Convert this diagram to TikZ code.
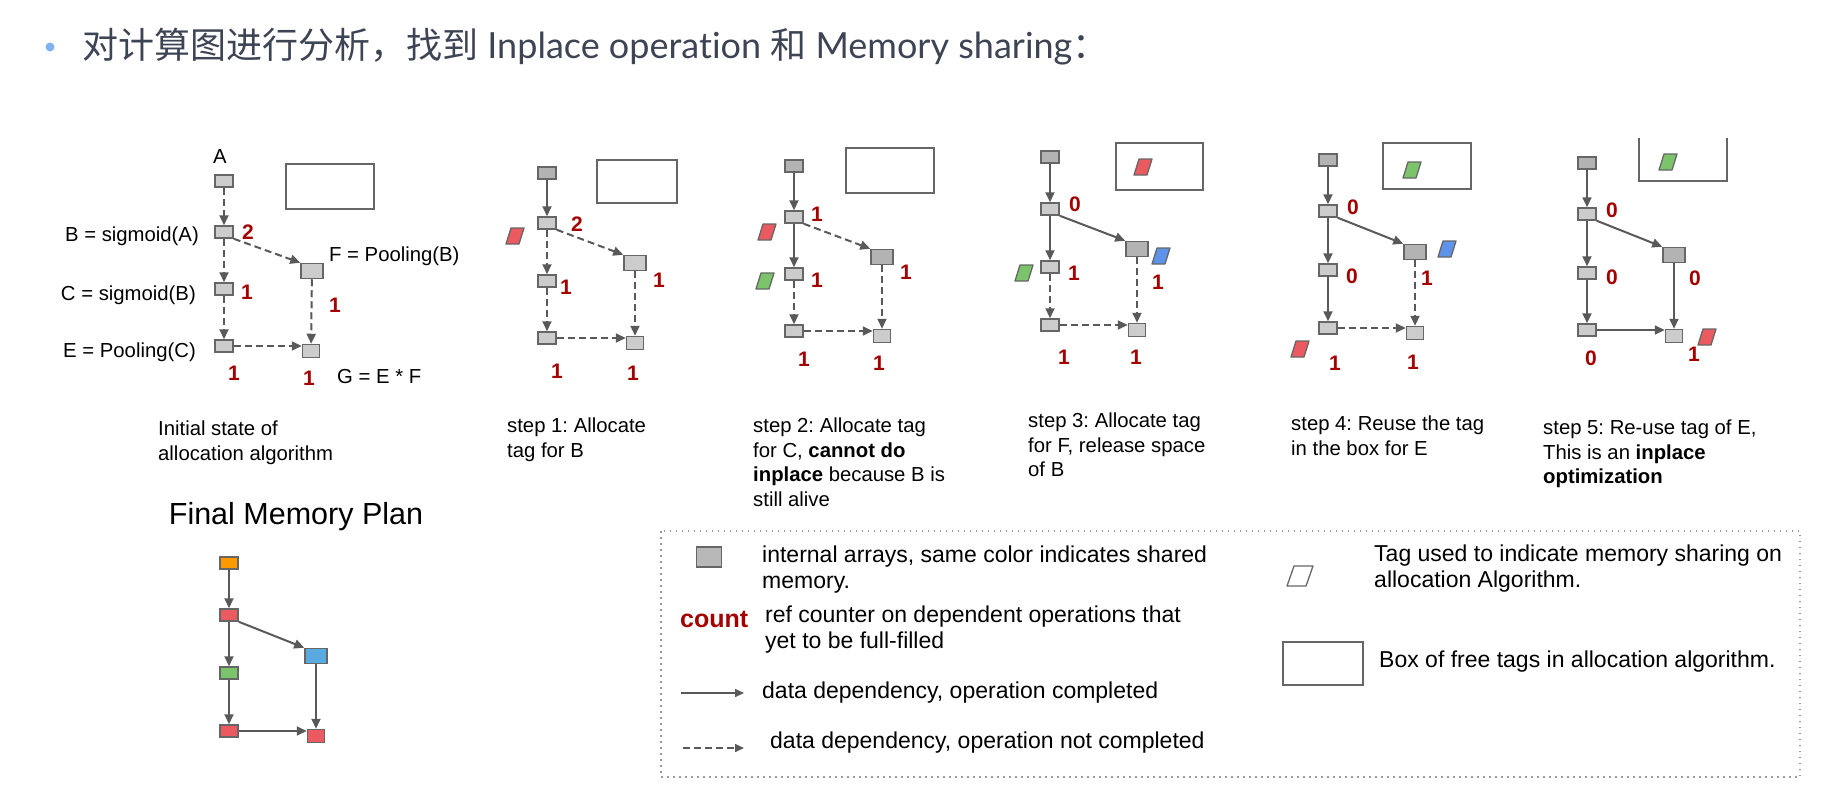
\documentclass[tikz,border=0pt]{standalone}
\usepackage{fontspec}
\setmainfont{Liberation Sans}
\newfontfamily\hdfont[Ligatures=NoCommon]{Lato}
\newfontfamily\cjk{Noto Sans CJK SC}
\usetikzlibrary{arrows.meta}
\frenchspacing
\definecolor{edgec}{HTML}{595959}
\definecolor{nodeline}{HTML}{666666}
\definecolor{nodelight}{HTML}{CCCCCC}
\definecolor{nodedark}{HTML}{B3B3B3}
\definecolor{cntred}{HTML}{A40000}
\definecolor{tagred}{HTML}{EC5A61}
\definecolor{taggreen}{HTML}{7BC46C}
\definecolor{tagblue}{HTML}{5E93EB}
\definecolor{fmblue}{HTML}{5AAAE2}
\definecolor{fmorange}{HTML}{FF9900}
\definecolor{hdcol}{HTML}{3D4454}
\definecolor{bulletcol}{HTML}{7FB2F0}
\definecolor{dotcol}{HTML}{9A9A9A}
\newcommand\lblfont{\fontsize{20.3}{24.5}\selectfont}
\newcommand\legfont{\fontsize{23}{26}\selectfont}
\newcommand\cntfont{\fontsize{21}{24}\selectfont\bfseries}
\tikzset{
  arr/.style={draw=edgec, line width=2pt, -{Triangle[length=10pt,width=9pt]}},
  dsh/.style={arr, dash pattern=on 7pt off 4pt},
  nd/.style={draw=nodeline, line width=1.5pt, fill=nodelight, minimum width=18pt, minimum height=12pt, inner sep=0pt},
  ndk/.style={nd, fill=nodedark},
  ndf/.style={nd, minimum width=22pt, minimum height=15pt},
  ndg/.style={nd, minimum width=17pt, minimum height=13pt},
  cnt/.style={text=cntred, font=\cntfont, inner sep=0pt},
  lbl/.style={font=\lblfont, inner sep=0pt},
  captxt/.style={font=\lblfont, inner sep=0pt, align=left, anchor=north west},
  legtxt/.style={font=\legfont, inner sep=0pt, align=left, anchor=west},
  freebox/.style={draw=nodeline, line width=1.6pt},
  pics/tag/.style={code={\draw[draw=nodeline, line width=1.3pt, fill=#1, line join=round] (-9,8) -- (4,8) -- (9,-8) -- (-4,-8) -- cycle;}},
  pics/bigtag/.style={code={\draw[draw=nodeline, line width=1.3pt, fill=#1, line join=round] (-13,10) -- (6,10) -- (13,-10) -- (-6,-10) -- cycle;}}
}
\begin{document}
\begin{tikzpicture}[x=1pt, y=-1pt]
\useasboundingbox (0,0) rectangle (1845,803);

% header
\fill[bulletcol] (50,47) circle (4.5);
\node[anchor=west, inner sep=0pt, text=hdcol, font=\hdfont\fontsize{36}{40}\selectfont] (hd) at (82,47)
  {{\cjk 对计算图进行分析，找到} Inplace operation {\cjk 和} Memory sharing{\cjk ：}};

% ===== initial state =====
\node[nd] (s0A) at (224,181) {};
\node[nd] (s0B) at (224,232) {};
\node[nd] (s0C) at (224,289) {};
\node[nd] (s0E) at (224,346) {};
\node[ndf] (s0F) at (312,271) {};
\node[ndg] (s0G) at (311,351) {};
\node[lbl] (s0lA) at (220,157) {A};
\node[lbl, anchor=east] (s0lB) at (199,236) {B = sigmoid(A)};
\node[lbl, anchor=east] (s0lC) at (196,295) {C = sigmoid(B)};
\node[lbl, anchor=east] (s0lE) at (196,352) {E = Pooling(C)};
\node[lbl, anchor=west] (s0lF) at (329,256) {F = Pooling(B)};
\node[lbl, anchor=west] (s0lG) at (337,377) {G = E * F};
\node[cnt] (s0cB) at (248,232) {2};
\node[cnt] (s0cC) at (247,292) {1};
\node[cnt] (s0cF) at (335,305) {1};
\node[cnt] (s0cE) at (234,373) {1};
\node[cnt] (s0cG) at (309,378) {1};
\draw[freebox] (286,164) rectangle (374,209);
\node[captxt] (s0t) at (158,421) {Initial state of\\allocation algorithm};
\draw[dsh] (s0A) -- (s0B);
\draw[dsh] (s0B) -- (s0C);
\draw[dsh] (s0C) -- (s0E);
\draw[dsh] (s0B.south east) -- (s0F.north west);
\draw[dsh] (s0F) -- (s0G);
\draw[dsh] (s0E.east) -- (s0G.west |- s0E.east);

% ===== step 1 =====
\node[ndk] (s1A) at (547,173) {};
\node[nd] (s1B) at (547,223) {};
\node[nd] (s1C) at (547,281) {};
\node[nd] (s1E) at (547,338) {};
\node[ndf] (s1F) at (635,263) {};
\node[ndg] (s1G) at (635,343) {};
\node[cnt] (s1cB) at (577,224) {2};
\node[cnt] (s1cC) at (566,287) {1};
\node[cnt] (s1cF) at (659,280) {1};
\node[cnt] (s1cE) at (557,371) {1};
\node[cnt] (s1cG) at (633,373) {1};
\pic (s1tr) at (515,236) {tag=tagred};
\draw[freebox] (597,160) rectangle (677,203);
\node[captxt] (s1t) at (507,418) {step 1: Allocate\\tag for B};
\draw[arr] (s1A) -- (s1B);
\draw[dsh] (s1B) -- (s1C);
\draw[dsh] (s1C) -- (s1E);
\draw[dsh] (s1B.south east) -- (s1F.north west);
\draw[dsh] (s1F) -- (s1G);
\draw[dsh] (s1E.east) -- (s1G.west |- s1E.east);

% ===== step 2 =====
\node[ndk] (s2A) at (794,166) {};
\node[nd] (s2B) at (794,217) {};
\node[nd] (s2C) at (794,274) {};
\node[nd] (s2E) at (794,331) {};
\node[ndf, fill=nodedark] (s2F) at (882,257) {};
\node[ndg] (s2G) at (882,336) {};
\node[cnt] (s2cB) at (817,214) {1};
\node[cnt] (s2cC) at (817,280) {1};
\node[cnt] (s2cF) at (906,272) {1};
\node[cnt] (s2cE) at (804,359) {1};
\node[cnt] (s2cG) at (879,363) {1};
\pic (s2tr) at (767,232) {tag=tagred};
\pic (s2tg) at (765,281) {tag=taggreen};
\draw[freebox] (846,148) rectangle (934,193);
\node[captxt] (s2t) at (753,418) {step 2: Allocate tag\\for C, \textbf{cannot do}\\\textbf{inplace} because B is\\still alive};
\draw[arr] (s2A) -- (s2B);
\draw[arr] (s2B) -- (s2C);
\draw[dsh] (s2C) -- (s2E);
\draw[dsh] (s2B.south east) -- (s2F.north west);
\draw[dsh] (s2F) -- (s2G);
\draw[dsh] (s2E.east) -- (s2G.west |- s2E.east);

% ===== step 3 =====
\node[ndk] (s3A) at (1050,157) {};
\node[nd] (s3B) at (1050,209) {};
\node[nd] (s3C) at (1050,267) {};
\node[nd] (s3E) at (1050,325) {};
\node[ndf, fill=nodedark] (s3F) at (1137,249) {};
\node[ndg] (s3G) at (1137,330) {};
\node[cnt] (s3cB) at (1075,204) {0};
\node[cnt] (s3cC) at (1074,273) {1};
\node[cnt] (s3cF) at (1158,282) {1};
\node[cnt] (s3cE) at (1064,357) {1};
\node[cnt] (s3cG) at (1136,357) {1};
\pic (s3tb) at (1161,256) {tag=tagblue};
\pic (s3tg) at (1024,273) {tag=taggreen};
\draw[freebox] (1116,143) rectangle (1203,190);
\pic (s3tr) at (1143,167) {tag=tagred};
\node[captxt] (s3t) at (1028,413) {step 3: Allocate tag\\for F, release space\\of B};
\draw[arr] (s3A) -- (s3B);
\draw[arr] (s3B) -- (s3C);
\draw[dsh] (s3C) -- (s3E);
\draw[arr] (s3B.south east) -- (s3F.north west);
\draw[dsh] (s3F) -- (s3G);
\draw[dsh] (s3E.east) -- (s3G.west |- s3E.east);

% ===== step 4 =====
\node[ndk] (s4A) at (1328,160) {};
\node[nd] (s4B) at (1328,211) {};
\node[nd] (s4C) at (1328,270) {};
\node[nd] (s4E) at (1328,328) {};
\node[ndf, fill=nodedark] (s4F) at (1415,252) {};
\node[ndg] (s4G) at (1415,333) {};
\node[cnt] (s4cB) at (1353,207) {0};
\node[cnt] (s4cC) at (1352,276) {0};
\node[cnt] (s4cF) at (1427,278) {1};
\node[cnt] (s4cE) at (1335,363) {1};
\node[cnt] (s4cG) at (1413,362) {1};
\pic (s4tb) at (1447,249) {tag=tagblue};
\pic (s4tr) at (1300,349) {tag=tagred};
\draw[freebox] (1383,143) rectangle (1471,189);
\pic (s4tg) at (1412,170) {tag=taggreen};
\node[captxt] (s4t) at (1291,416) {step 4: Reuse the tag\\in the box for E};
\draw[arr] (s4A) -- (s4B);
\draw[arr] (s4B) -- (s4C);
\draw[arr] (s4C) -- (s4E);
\draw[arr] (s4B.south east) -- (s4F.north west);
\draw[dsh] (s4F) -- (s4G);
\draw[dsh] (s4E.east) -- (s4G.west |- s4E.east);

% ===== step 5 =====
\node[ndk] (s5A) at (1587,163) {};
\node[nd] (s5B) at (1587,214) {};
\node[nd] (s5C) at (1587,273) {};
\node[nd] (s5E) at (1587,330) {};
\node[ndf, fill=nodedark] (s5F) at (1674,255) {};
\node[ndg] (s5G) at (1674,336) {};
\node[cnt] (s5cB) at (1612,210) {0};
\node[cnt] (s5cC) at (1612,277) {0};
\node[cnt] (s5cF) at (1695,278) {0};
\node[cnt] (s5cE) at (1591,358) {0};
\node[cnt] (s5cG) at (1694,354) {1};
\pic (s5tr) at (1707,337) {tag=tagred};
\draw[freebox] (1639,138) -- (1639,181) -- (1727,181) -- (1727,138);
\pic (s5tg) at (1668,162) {tag=taggreen};
\node[captxt] (s5t) at (1543,420) {step 5: Re-use tag of E,\\This is an \textbf{inplace}\\\textbf{optimization}};
\draw[arr] (s5A) -- (s5B);
\draw[arr] (s5B) -- (s5C);
\draw[arr] (s5C) -- (s5E);
\draw[arr] (s5B.south east) -- (s5F.north west);
\draw[arr] (s5F) -- (s5G);
\draw[arr] (s5E.east) -- (s5G.west |- s5E.east);

% ===== final memory plan =====
\node[inner sep=0pt, font=\fontsize{30.5}{34}\selectfont] (fmt) at (296,517) {Final Memory Plan};
\node[nd, fill=fmorange] (fmA) at (229,563) {};
\node[nd, fill=tagred] (fmB) at (229,615) {};
\node[nd, fill=taggreen] (fmC) at (229,673) {};
\node[nd, fill=tagred] (fmE) at (229,731) {};
\node[ndf, fill=fmblue] (fmF) at (316,656) {};
\node[ndg, fill=tagred] (fmG) at (316,736) {};
\draw[arr] (fmA) -- (fmB);
\draw[arr] (fmB) -- (fmC);
\draw[arr] (fmC) -- (fmE);
\draw[arr] (fmB.south east) -- (fmF.north west);
\draw[arr] (fmF) -- (fmG);
\draw[arr] (fmE.east) -- (fmG.west |- fmE.east);

% ===== legend =====
\draw[dotcol, line width=1.5pt, dash pattern=on 1.5pt off 4.5pt] (661,531) rectangle (1800,777);
\node[nd, fill=nodedark!80!nodelight, minimum width=25pt, minimum height=20pt] (lgA) at (709,557) {};
\node[legtxt, anchor=north west] (lgAt) at (762,546) {internal arrays, same color indicates shared\\memory.};
\node[cnt, anchor=west, font=\fontsize{25}{28}\selectfont\bfseries] (lgC) at (680,619) {count};
\node[legtxt, anchor=north west] (lgCt) at (765,606) {ref counter on dependent operations that\\yet to be full-filled};
\coordinate (lgS1) at (681,693);
\coordinate (lgS2) at (744,693);
\draw[arr, line width=1.5pt, -{Triangle[length=9pt,width=8pt]}] (lgS1) -- (lgS2);
\node[legtxt] (lgSt) at (762,693) {data dependency, operation completed};
\coordinate (lgD1) at (683,748);
\coordinate (lgD2) at (744,748);
\draw[dsh, line width=1.5pt, -{Triangle[length=9pt,width=8pt]}] (lgD1) -- (lgD2);
\node[legtxt] (lgDt) at (770,743) {data dependency, operation not completed};
\pic (lgT) at (1300,576) {bigtag=white};
\node[legtxt, anchor=north west] (lgTt) at (1374,545) {Tag used to indicate memory sharing on\\allocation Algorithm.};
\draw[freebox] (1283,642) rectangle (1363,685);
\node[legtxt] (lgBt) at (1379,662) {Box of free tags in allocation algorithm.};
\end{tikzpicture}
\end{document}
